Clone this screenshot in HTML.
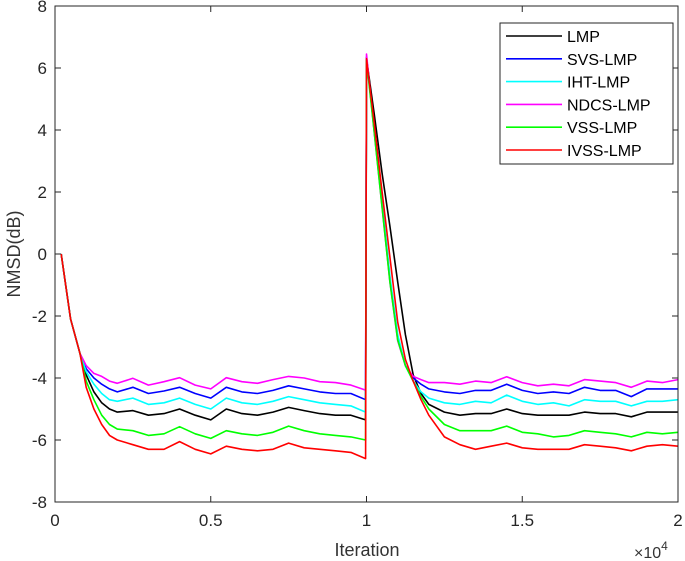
<!DOCTYPE html>
<html><head><meta charset="utf-8"><style>
body{margin:0;background:#fff;}
svg{display:block;font-family:"Liberation Sans",Arial,sans-serif;}
</style></head><body>
<svg id="chart" width="685" height="561" viewBox="0 0 685 561" xmlns="http://www.w3.org/2000/svg">
<rect x="0" y="0" width="685" height="561" fill="#fff"/>
<g id="plot"></g>
<g id="axes"></g>
<text x="367" y="556" font-size="18" text-anchor="middle" fill="#333">Iteration</text>
<text x="0" y="0" font-size="18" text-anchor="middle" fill="#333" transform="translate(20,254) rotate(-90)">NMSD(dB)</text>
<text x="634" y="558" font-size="16" fill="#333">×10<tspan font-size="12" dy="-8">4</tspan></text>
<g id="legend"></g>
</svg>
<script>
const xTicks=[0,0.5,1,1.5,2];
const xTickLabels=["0","0.5","1","1.5","2"];
const yTicks=[-8,-6,-4,-2,0,2,4,6,8];
const yTickLabels=["-8","-6","-4","-2","0","2","4","6","8"];
const seriesNames=["LMP","SVS-LMP","IHT-LMP","NDCS-LMP","VSS-LMP","IVSS-LMP"];
const seriesColors=["#000000","#0000ff","#00ffff","#ff00ff","#00ff00","#ff0000"];
const xs=[0.02,0.05,0.08,0.1,0.125,0.15,0.175,0.2,0.25,0.3,0.35,0.4,0.45,0.5,0.55,0.6,0.65,0.7,0.75,0.8,0.85,0.9,0.95,0.997,
1.0,1.025,1.05,1.075,1.1,1.125,1.15,1.175,1.2,1.25,1.3,1.35,1.4,1.45,1.5,1.55,1.6,1.65,1.7,1.75,1.8,1.85,1.9,1.95,2.0];
const lmp=[0,-2.1,-3.2,-3.9,-4.45,-4.8,-5.0,-5.1,-5.05,-5.2,-5.15,-5.0,-5.2,-5.35,-5.0,-5.15,-5.2,-5.1,-4.95,-5.05,-5.15,-5.2,-5.2,-5.35,
6.3,4.5,2.6,0.9,-0.9,-2.6,-3.9,-4.5,-4.85,-5.1,-5.2,-5.15,-5.15,-5.0,-5.15,-5.2,-5.2,-5.2,-5.1,-5.15,-5.15,-5.25,-5.1,-5.1,-5.1];
const svs=[0,-2.1,-3.2,-3.7,-4.0,-4.2,-4.35,-4.45,-4.3,-4.5,-4.42,-4.3,-4.5,-4.65,-4.3,-4.45,-4.5,-4.4,-4.25,-4.35,-4.45,-4.5,-4.5,-4.7,
6.35,3.95,1.6,-0.8,-2.7,-3.6,-4.0,-4.2,-4.35,-4.45,-4.5,-4.4,-4.4,-4.2,-4.4,-4.5,-4.45,-4.5,-4.3,-4.4,-4.4,-4.6,-4.35,-4.35,-4.35];
const iht=[0,-2.1,-3.2,-3.8,-4.2,-4.5,-4.7,-4.75,-4.65,-4.85,-4.8,-4.65,-4.85,-5.0,-4.65,-4.8,-4.85,-4.75,-4.6,-4.7,-4.8,-4.85,-4.9,-5.1,
6.3,4.0,1.7,-0.7,-2.6,-3.6,-4.1,-4.45,-4.65,-4.8,-4.85,-4.75,-4.8,-4.55,-4.75,-4.85,-4.8,-4.9,-4.7,-4.75,-4.75,-4.9,-4.75,-4.75,-4.7];
const ndcs=[0,-2.1,-3.2,-3.6,-3.85,-3.95,-4.1,-4.17,-4.01,-4.23,-4.12,-3.99,-4.23,-4.35,-3.99,-4.12,-4.17,-4.05,-3.95,-4.0,-4.12,-4.15,-4.23,-4.39,
6.45,3.9,1.5,-0.9,-2.8,-3.6,-3.95,-4.05,-4.15,-4.15,-4.2,-4.1,-4.15,-3.96,-4.15,-4.25,-4.2,-4.25,-4.05,-4.1,-4.15,-4.3,-4.1,-4.15,-4.05];
const vss=[0,-2.1,-3.2,-4.1,-4.7,-5.2,-5.5,-5.65,-5.7,-5.85,-5.8,-5.57,-5.8,-5.95,-5.7,-5.8,-5.85,-5.75,-5.55,-5.7,-5.8,-5.85,-5.9,-6.0,
6.25,3.9,1.5,-0.9,-2.77,-3.6,-4.1,-4.6,-5.0,-5.5,-5.7,-5.7,-5.7,-5.55,-5.75,-5.8,-5.9,-5.85,-5.7,-5.75,-5.8,-5.9,-5.75,-5.8,-5.75];
const ivss=[0,-2.1,-3.2,-4.3,-5.0,-5.5,-5.85,-6.0,-6.15,-6.3,-6.3,-6.05,-6.3,-6.45,-6.2,-6.3,-6.35,-6.3,-6.1,-6.25,-6.3,-6.35,-6.4,-6.6,
6.3,4.2,2.0,-0.1,-2.2,-3.4,-4.1,-4.7,-5.2,-5.9,-6.15,-6.3,-6.2,-6.1,-6.25,-6.3,-6.3,-6.3,-6.15,-6.2,-6.25,-6.35,-6.2,-6.15,-6.2];
const seriesData=[lmp,svs,iht,ndcs,vss,ivss];

const L=55,R=678,T=6,B=502;
function sx(v){return L+(v-0)/(2-0)*(R-L);}
function sy(v){return B-(v+8)/16*(B-T);}
const NS="http://www.w3.org/2000/svg";
function mk(tag,attrs,parent){const e=document.createElementNS(NS,tag);for(const k in attrs)e.setAttribute(k,attrs[k]);parent.appendChild(e);return e;}
const plot=document.getElementById('plot');
const axes=document.getElementById('axes');
const legend=document.getElementById('legend');

seriesData.forEach((d,i)=>{
  const pts=d.map((v,j)=>sx(xs[j]).toFixed(1)+","+sy(v).toFixed(1)).join(" ");
  const pl=mk('polyline',{points:pts,fill:"none",stroke:seriesColors[i],"stroke-width":"1.6","stroke-linejoin":"round"},plot);
  
  
});

const box=mk('rect',{x:L,y:T,width:R-L,height:B-T,fill:"none",stroke:"#262626","stroke-width":"1"},axes);


xTicks.forEach((v,i)=>{
  const x=sx(v);
  const t1=mk('line',{x1:x,y1:B,x2:x,y2:B-6,stroke:"#262626"},axes);
  
  
  const t2=mk('line',{x1:x,y1:T,x2:x,y2:T+6,stroke:"#262626"},axes);
  
  
  const tx=mk('text',{x:x,y:B+24,"font-size":"17","text-anchor":"middle",fill:"#262626"},axes);
  tx.textContent=xTickLabels[i];
  
  
});
yTicks.forEach((v,i)=>{
  const y=sy(v);
  const t1=mk('line',{x1:L,y1:y,x2:L+6,y2:y,stroke:"#262626"},axes);
  
  
  const t2=mk('line',{x1:R,y1:y,x2:R-6,y2:y,stroke:"#262626"},axes);
  
  
  const tx=mk('text',{x:L-8,y:y+6,"font-size":"17","text-anchor":"end",fill:"#262626"},axes);
  tx.textContent=yTickLabels[i];
  
  
});

const lb=mk('rect',{x:500,y:23,width:173,height:141,fill:"#fff",stroke:"#262626","stroke-width":"1"},legend);


seriesNames.forEach((n,i)=>{
  const y=36+i*22.8;
  const ln=mk('line',{x1:506,y1:y,x2:562,y2:y,stroke:seriesColors[i],"stroke-width":"1.6"},legend);
  
  
  const tx=mk('text',{x:567,y:y+6,"font-size":"16",fill:"#000"},legend);
  tx.textContent=n;
  
  
});
</script>
</body></html>
